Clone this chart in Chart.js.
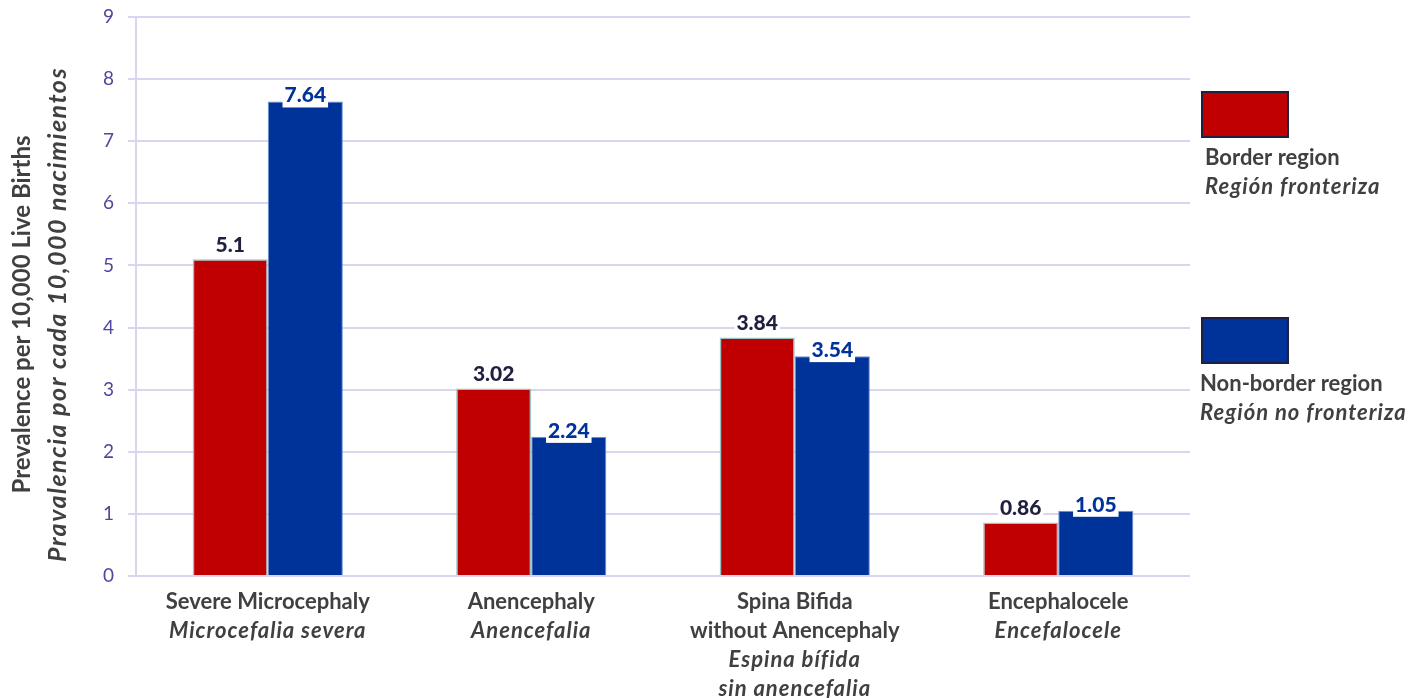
<!DOCTYPE html>
<html>
<head>
<meta charset="utf-8">
<script src="https://cdn.jsdelivr.net/npm/chart.js@4"></script>
<style>
  html, body { margin: 0; padding: 0; background: #fff; }
  #wrap { width: 1423px; height: 698px; position: relative; }
</style>
</head>
<body>
<div id="wrap"><canvas id="grafico" width="1423" height="698"></canvas></div>
<script>
const categoriasEn = [['Severe Microcephaly'], ['Anencephaly'], ['Spina Bifida', 'without Anencephaly'], ['Encephalocele']];
const categoriasEs = [['Microcefalia severa'], ['Anencefalia'], ['Espina bífida', 'sin anencefalia'], ['Encefalocele']];
const fronteriza = [5.1, 3.02, 3.84, 0.86];
const noFronteriza = [7.64, 2.24, 3.54, 1.05];
const serieEn = ['Border region', 'Non-border region'];
const serieEs = ['Región fronteriza', 'Región no fronteriza'];
const ejeYEn = 'Prevalence per 10,000 Live Births';
const ejeYEs = 'Pravalencia por cada 10,000 nacimientos';
const ticksY = [0, 1, 2, 3, 4, 5, 6, 7, 8, 9];

const FUENTE = 'Lato, "Open Sans", sans-serif';
const GRIS = '#404040';
const LAVANDA = '#d9d5ee';

// etiquetas de valor con caja blanca
const etiquetas = {
  id: 'etiquetas',
  afterDatasetsDraw(chart) {
    const ctx = chart.ctx;
    ctx.save();
    ctx.font = `900 21px ${FUENTE}`;
    ctx.textAlign = 'center';
    ctx.textBaseline = 'middle';
    chart.data.datasets.forEach((ds, i) => {
      chart.getDatasetMeta(i).data.forEach((bar, j) => {
        const txt = String(ds.data[j]);
        const w = ctx.measureText(txt).width + 4;
        const cy = i === 0 ? bar.y - 14 : bar.y - 6;
        ctx.fillStyle = '#fff';
        ctx.fillRect(bar.x - w / 2, cy - 11, w, 23);
        ctx.fillStyle = i === 0 ? '#1f1f3f' : '#003399';
        ctx.fillText(txt, bar.x, cy);
      });
    });
    ctx.restore();
  }
};

// textos de ejes y leyenda
const textos = {
  id: 'textos',
  afterDraw(chart) {
    const ctx = chart.ctx;
    const area = chart.chartArea;
    const x = chart.scales.x;
    ctx.save();
    ctx.fillStyle = GRIS;
    ctx.textAlign = 'center';
    ctx.textBaseline = 'middle';

    categoriasEn.forEach((lineas, i) => {
      const cx = x.getPixelForValue(i);
      let y = area.bottom + 26;
      ctx.letterSpacing = '0px';
      ctx.font = `bold 22px ${FUENTE}`;
      lineas.forEach(l => { ctx.fillText(l, cx, y); y += 29; });
      ctx.letterSpacing = '1px';
      ctx.font = `italic bold 22px ${FUENTE}`;
      categoriasEs[i].forEach(l => { ctx.fillText(l, cx, y); y += 29; });
    });

    // titulo eje y
    const cyT = (area.top + area.bottom) / 2;
    ctx.translate(22, cyT + 18);
    ctx.rotate(-Math.PI / 2);
    ctx.letterSpacing = '0px';
    ctx.font = `bold 24px ${FUENTE}`;
    ctx.fillText(ejeYEn, 0, 0);
    ctx.letterSpacing = '1.5px';
    ctx.font = `italic bold 25px ${FUENTE}`;
    ctx.fillText(ejeYEs, 0, 36);
    ctx.setTransform(1, 0, 0, 1, 0, 0);
    ctx.restore();

    // leyenda
    ctx.save();
    const cajas = [92, 318];
    const xTexto = [1205, 1200];
    chart.data.datasets.forEach((ds, i) => {
      const top = cajas[i];
      ctx.fillStyle = ds.backgroundColor;
      ctx.fillRect(1202, top, 86, 45);
      ctx.strokeStyle = '#1f1f3f';
      ctx.lineWidth = 2;
      ctx.strokeRect(1202, top, 86, 45);
      ctx.fillStyle = GRIS;
      ctx.textAlign = 'left';
      ctx.textBaseline = 'middle';
      ctx.letterSpacing = '0px';
      ctx.font = `bold 22px ${FUENTE}`;
      ctx.fillText(serieEn[i], xTexto[i], top + 66);
      ctx.letterSpacing = '1px';
      ctx.font = `italic bold 22px ${FUENTE}`;
      ctx.fillText(serieEs[i], xTexto[i], top + 95);
    });
    ctx.restore();
  }
};

const data = {
  labels: categoriasEn.map(l => l.join(' ')),
  datasets: [
    {
      label: serieEn[0],
      data: fronteriza,
      backgroundColor: '#c00000',
      borderColor: '#9cc3c3',
      borderWidth: 1.5,
      categoryPercentage: 0.57,
      barPercentage: 1
    },
    {
      label: serieEn[1],
      data: noFronteriza,
      backgroundColor: '#003399',
      borderColor: '#7090cc',
      borderWidth: 1,
      categoryPercentage: 0.57,
      barPercentage: 1
    }
  ]
};

const config = {
  type: 'bar',
  data,
  plugins: [etiquetas, textos],
  options: {
    responsive: false,
    animation: false,
    layout: { padding: { left: 0, right: 233, top: 17, bottom: 0 } },
    plugins: {
      legend: { display: false },
      tooltip: { enabled: false }
    },
    scales: {
      x: {
        grid: { display: false },
        border: { display: false },
        ticks: { display: false },
        afterFit: s => { s.height = 122; s.paddingLeft = 0; s.paddingRight = 0; }
      },
      y: {
        min: 0,
        max: 9,
        afterBuildTicks: s => { s.ticks = ticksY.map(v => ({ value: v })); },
        afterFit: s => { s.width = 136; s.paddingTop = 0; s.paddingBottom = 0; },
        grid: { color: LAVANDA, lineWidth: 2, tickLength: 8 },
        border: { display: true, color: LAVANDA, width: 2 },
        ticks: {
          color: '#4f479e',
          padding: 14,
          font: { family: FUENTE, size: 19 }
        }
      }
    }
  }
};

new Chart(document.getElementById('grafico'), config);
</script>
</body>
</html>
